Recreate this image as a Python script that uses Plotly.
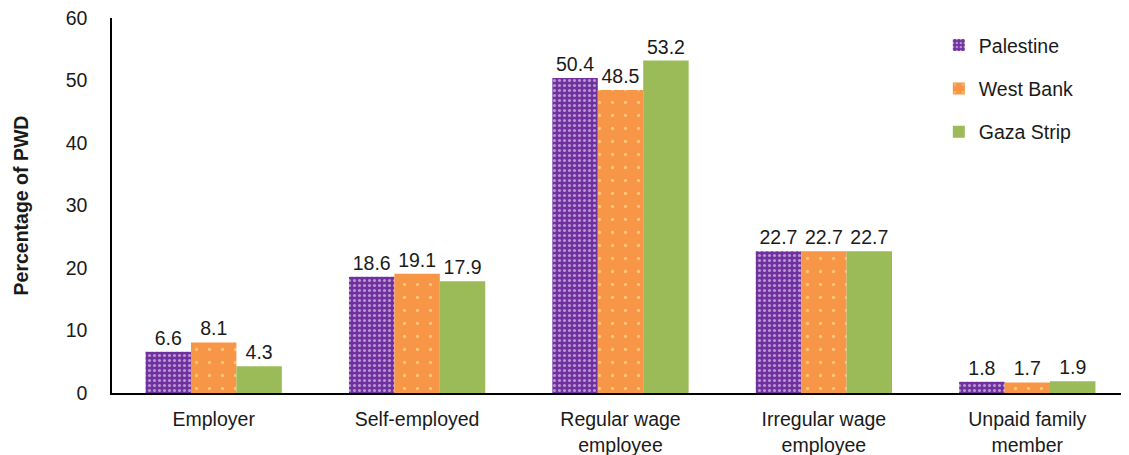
import plotly.graph_objects as go

categories = ["Employer", "Self-employed", "Regular wage<br>employee", "Irregular wage<br>employee", "Unpaid family<br>member"]
palestine = [6.6, 18.6, 50.4, 22.7, 1.8]
west_bank = [8.1, 19.1, 48.5, 22.7, 1.7]
gaza = [4.3, 17.9, 53.2, 22.7, 1.9]
y_ticks = [0, 10, 20, 30, 40, 50, 60]

font_family = "Liberation Sans, Arial, sans-serif"

fig = go.Figure()
fig.add_trace(go.Bar(
    name="Palestine", x=categories, y=palestine, legendgroup="p",
    text=[f"{v:.1f}" for v in palestine], textposition="outside",
    marker=dict(color="#7030A0", line=dict(width=0),
                pattern=dict(shape=".", fgcolor="white", size=5, solidity=0.3)),
))
fig.add_trace(go.Bar(
    name="West Bank", x=categories, y=west_bank, legendgroup="w",
    text=[f"{v:.1f}" for v in west_bank], textposition="outside",
    marker=dict(color="#F79646", line=dict(width=0),
                pattern=dict(shape=".", fgcolor="#FFF4B0", size=13, solidity=0.05)),
))
fig.add_trace(go.Bar(
    name="Gaza Strip", x=categories, y=gaza, legendgroup="g",
    text=[f"{v:.1f}" for v in gaza], textposition="outside",
    marker=dict(color="#9BBB59", line=dict(width=0)),
))

fig.update_traces(textfont=dict(size=19.5, color="#1a1a1a", family=font_family), cliponaxis=False)

fig.update_layout(
    width=1121, height=447,
    margin=dict(l=104, r=0, t=10, b=62, autoexpand=False),
    paper_bgcolor="white", plot_bgcolor="white",
    barmode="group", bargap=0.33, bargroupgap=0,
    font=dict(family=font_family, size=19.5, color="#1a1a1a"),
    legend=dict(x=0.813, y=0.979, xanchor="left", yanchor="top",
                font=dict(size=19.5), tracegroupgap=15, itemsizing="constant",
                itemwidth=30, bgcolor="rgba(0,0,0,0)"),
    xaxis=dict(showline=True, linecolor="black", linewidth=1.5, ticks="",
               tickfont=dict(size=19.5), showgrid=False, automargin=False,
               ticklabelstandoff=8, ticklabeloverflow="allow"),
    yaxis=dict(range=[0, 60], tickvals=y_ticks, showline=True, linecolor="black",
               linewidth=1.5, ticks="", showgrid=False, zeroline=False,
               tickfont=dict(size=19.5), ticklabelstandoff=19, automargin=False,
               ticklabeloverflow="allow",
               title=dict(text="<b>Percentage of PWD</b>", font=dict(size=19.5), standoff=32)),
)

fig.write_html("out.html")
